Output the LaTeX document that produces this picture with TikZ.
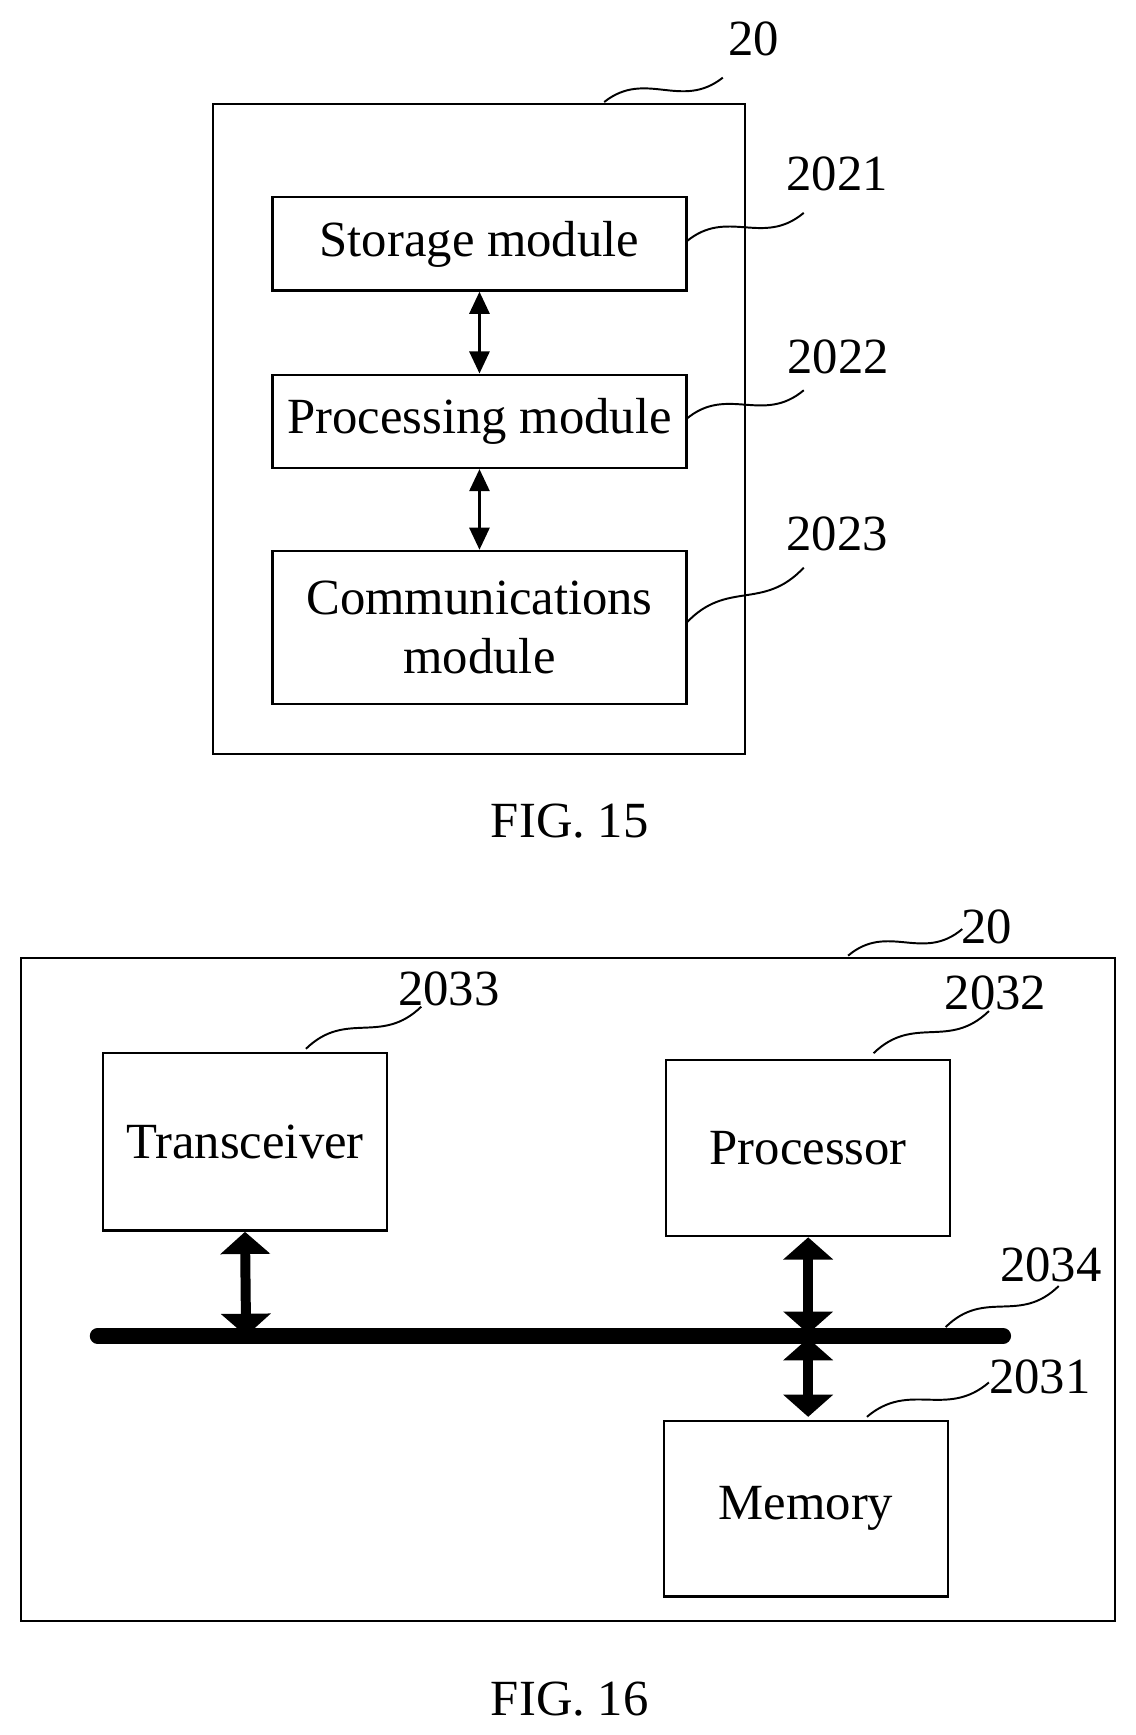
\documentclass[tikz,border=0pt]{standalone}
\usepackage{fontspec}
\setmainfont{Liberation Serif}
\usetikzlibrary{arrows.meta,calc}
\begin{document}
\begin{tikzpicture}[x=0.01cm,y=-0.01cm,
  box/.style={draw,line width=0.6pt},
  txt/.style={font=\fontsize{13}{15.3}\selectfont,align=center},
  lbl/.style={font=\fontsize{13}{16}\selectfont},
  thin/.style={{Triangle[length=0.2cm,width=0.18cm]}-{Triangle[length=0.2cm,width=0.18cm]},line width=0.8pt},
  fat/.style={{Triangle[length=0.2cm,width=0.44cm]}-{Triangle[length=0.2cm,width=0.44cm]},line width=0.09cm},
  sq/.style={line width=0.5pt}]
\useasboundingbox (0,0) rectangle (1024,1565);
\newcommand{\sqg}[2]{\draw[sq] (#1) .. controls ($(#1)!0.35!(#2)+(0,-22)$) and ($(#1)!0.65!(#2)+(0,22)$) .. (#2);}
% FIG 15
\draw[box] (192,94) rectangle (672,680);
\node[box,minimum width=3.73cm,minimum height=0.84cm,txt] (st) at (432.5,220) {Storage module};
\node[box,minimum width=3.73cm,minimum height=0.84cm,txt] (pr) at (432.5,380) {Processing module};
\node[box,minimum width=3.73cm,minimum height=1.38cm,txt] (cm) at (432.5,566) {Communications\\module};
\draw[thin] (st.south) -- (pr.north);
\draw[thin] (pr.south) -- (cm.north);
\node[lbl] (l20a) at (680,35) {20};
\coordinate (a1) at (545,92); \coordinate (a2) at (652,70); \sqg{a1}{a2}
\node[lbl] (l2021) at (755,157) {2021};
\coordinate (b1) at (619,218); \coordinate (b2) at (725,192); \sqg{b1}{b2}
\node[lbl] (l2022) at (756,322) {2022};
\coordinate (c1) at (619,378); \coordinate (c2) at (725,352); \sqg{c1}{c2}
\node[lbl] (l2023) at (755,482) {2023};
\coordinate (d1) at (619,562); \coordinate (d2) at (725,512); \sqg{d1}{d2}
\node[lbl] (f15) at (514,741) {FIG. 15};
% FIG 16
\draw[box] (19,864) rectangle (1006,1462);
\node[box,minimum width=2.56cm,minimum height=1.6cm,txt] (tr) at (221,1030) {Transceiver};
\node[box,minimum width=2.56cm,minimum height=1.59cm,txt] (pc) at (729,1035.5) {Processor};
\node[box,minimum width=2.56cm,minimum height=1.58cm,txt] (me) at (727,1361) {Memory};
\coordinate (bl) at (88,1205); \coordinate (br) at (905,1205);
\draw[line width=0.14cm,line cap=round] (bl) -- (br);
\coordinate (t1) at (222,1205); \coordinate (p1) at (729,1203); \coordinate (m1) at (729,1207);
\draw[fat] (tr.south) -- (t1);
\draw[fat] (pc.south) -- (p1);
\draw[fat] (m1) -- (729,1278);
\node[lbl] (l20b) at (890,836) {20};
\coordinate (e1) at (765,862); \coordinate (e2) at (868,838); \sqg{e1}{e2}
\node[lbl] (l2033) at (405,892) {2033};
\coordinate (g1) at (276,946); \coordinate (g2) at (380,908); \sqg{g1}{g2}
\node[lbl] (l2032) at (898,896) {2032};
\coordinate (h1) at (788,950); \coordinate (h2) at (892,912); \sqg{h1}{h2}
\node[lbl] (l2034) at (948,1141) {2034};
\coordinate (i1) at (853,1197); \coordinate (i2) at (955,1160); \sqg{i1}{i2}
\node[lbl] (l2031) at (938,1242) {2031};
\coordinate (j1) at (782,1278); \coordinate (j2) at (892,1247); \sqg{j1}{j2}
\node[lbl] (f16) at (514,1533) {FIG. 16};
\end{tikzpicture}
\end{document}
